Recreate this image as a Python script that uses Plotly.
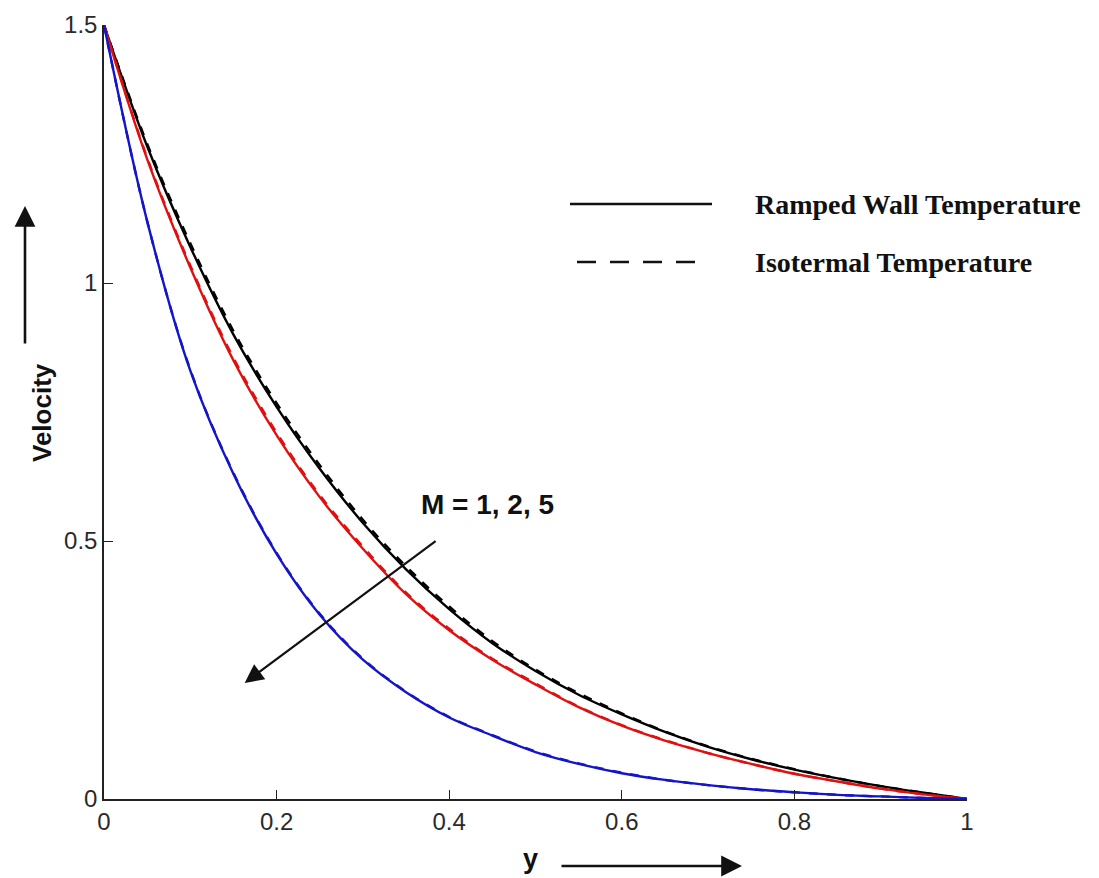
import plotly.graph_objects as go

# ---- data ----
y_pos = [0.0, 0.05, 0.1, 0.15, 0.2, 0.25, 0.3, 0.35, 0.4, 0.45, 0.5,
         0.55, 0.6, 0.65, 0.7, 0.75, 0.8, 0.85, 0.9, 0.95, 1.0]

m1_ramped = [1.5, 1.265, 1.07, 0.90, 0.76, 0.64, 0.535, 0.445, 0.368, 0.302, 0.248,
             0.202, 0.164, 0.130, 0.101, 0.077, 0.057, 0.040, 0.025, 0.012, 0.0]
m1_iso    = [1.5, 1.270, 1.077, 0.907, 0.767, 0.647, 0.541, 0.451, 0.373, 0.306, 0.251,
             0.205, 0.166, 0.131, 0.102, 0.078, 0.058, 0.040, 0.025, 0.012, 0.0]
m2_ramped = [1.5, 1.24, 1.03, 0.85, 0.705, 0.585, 0.485, 0.397, 0.327, 0.270, 0.222,
             0.178, 0.142, 0.113, 0.089, 0.068, 0.049, 0.034, 0.020, 0.009, 0.0]
m2_iso    = [1.5, 1.243, 1.034, 0.855, 0.710, 0.589, 0.489, 0.400, 0.330, 0.272, 0.224,
             0.179, 0.143, 0.114, 0.089, 0.068, 0.049, 0.034, 0.020, 0.009, 0.0]
m5_ramped = [1.5, 1.12, 0.83, 0.63, 0.475, 0.357, 0.27, 0.207, 0.158, 0.123, 0.091,
             0.068, 0.050, 0.037, 0.027, 0.019, 0.013, 0.008, 0.005, 0.002, 0.0]
m5_iso    = [1.5, 1.12, 0.832, 0.632, 0.477, 0.359, 0.272, 0.208, 0.159, 0.124, 0.092,
             0.069, 0.051, 0.037, 0.027, 0.019, 0.013, 0.008, 0.005, 0.002, 0.0]

x_ticks = [0, 0.2, 0.4, 0.6, 0.8, 1]
x_tick_labels = ["0", "0.2", "0.4", "0.6", "0.8", "1"]
y_ticks = [0, 0.5, 1, 1.5]
y_tick_labels = ["0", "0.5", "1", "1.5"]

BLACK = "#000000"
RED = "#e01010"
BLUE = "#1515c8"

series = [
    (m1_ramped, BLACK, "solid"),
    (m1_iso, BLACK, "dash"),
    (m2_ramped, RED, "solid"),
    (m2_iso, RED, "dash"),
    (m5_ramped, BLUE, "solid"),
    (m5_iso, BLUE, "dash"),
]

fig = go.Figure()
for vals, col, dash in series:
    fig.add_trace(go.Scatter(
        x=y_pos, y=vals, mode="lines",
        line=dict(color=col, width=2.4, dash=dash, shape="spline", smoothing=1.0),
        showlegend=False, hoverinfo="skip"))

# ---- layout ----
L, R, T, B = 104, 132, 25, 79
W, H = 1099, 878
pw, ph = W - L - R, H - T - B

def px(x):
    return (x - L) / pw

def py(y):
    return (H - B - y) / ph

tickfont = dict(family="Liberation Sans, Arial, sans-serif", size=24, color="#2a2a2a")

fig.update_layout(
    width=W, height=H,
    margin=dict(l=L, r=R, t=T, b=B),
    paper_bgcolor="white", plot_bgcolor="white",
    showlegend=False,
    xaxis=dict(range=[0, 1], tickvals=x_ticks, ticktext=x_tick_labels,
               showgrid=False, zeroline=False, showline=True, linecolor="#222",
               linewidth=1.5, ticks="inside", ticklen=9, tickwidth=1.3, tickcolor="#222",
               tickfont=tickfont, mirror=False),
    yaxis=dict(range=[0, 1.5], tickvals=y_ticks, ticktext=y_tick_labels,
               showgrid=False, zeroline=False, showline=True, linecolor="#222",
               linewidth=1.5, ticks="inside", ticklen=9, tickwidth=1.3, tickcolor="#222",
               tickfont=tickfont, mirror=False),
)

# legend drawn as shapes + text
fig.add_shape(type="line", xref="paper", yref="paper",
              x0=px(570), x1=px(712), y0=py(204), y1=py(204),
              line=dict(color="#111", width=2.5))
fig.add_shape(type="line", xref="paper", yref="paper",
              x0=px(577), x1=px(697), y0=py(262), y1=py(262),
              line=dict(color="#111", width=2.5, dash="19px,14px"))

legfont = dict(family="Liberation Serif, Times New Roman, serif", size=28, color="#111")
fig.add_annotation(xref="paper", yref="paper", x=px(753), y=py(204),
                   text="<b>Ramped Wall Temperature</b>", showarrow=False,
                   xanchor="left", yanchor="middle", font=legfont)
fig.add_annotation(xref="paper", yref="paper", x=px(753), y=py(262),
                   text="<b>Isotermal Temperature</b>", showarrow=False,
                   xanchor="left", yanchor="middle", font=legfont)

boldsans = dict(family="Liberation Sans, Arial, sans-serif", size=28, color="#111")

# M arrow (inside plot)
fig.add_annotation(x=0.163, y=0.225, ax=0.386, ay=0.502,
                   xref="x", yref="y", axref="x", ayref="y",
                   text="", showarrow=True, arrowhead=2, arrowsize=1.7,
                   arrowwidth=2.2, arrowcolor="#111")
fig.add_annotation(x=0.444, y=0.570, xref="x", yref="y",
                   text="<b>M = 1, 2, 5</b>", showarrow=False, font=boldsans)

# y-axis title and arrow
fig.add_annotation(xref="paper", yref="paper", x=px(25), y=py(413),
                   text="<b>Velocity</b>", textangle=-90, showarrow=False,
                   font=dict(family="Liberation Sans, Arial, sans-serif", size=26, color="#111"))
fig.add_annotation(xref="paper", yref="paper", x=px(25), y=py(206),
                   ax=0, ay=139, text="", showarrow=True, arrowhead=2,
                   arrowsize=1.6, arrowwidth=2.6, arrowcolor="#111")

# x-axis title and arrow
fig.add_annotation(xref="paper", yref="paper", x=px(530), y=py(876),
                   text="<b>y</b>", showarrow=False,
                   font=dict(family="Liberation Sans, Arial, sans-serif", size=27, color="#111"))
fig.add_annotation(xref="paper", yref="paper", x=px(742), y=py(866),
                   ax=-182, ay=0, text="", showarrow=True, arrowhead=2,
                   arrowsize=1.6, arrowwidth=2.6, arrowcolor="#111")

fig.write_html("out.html")
